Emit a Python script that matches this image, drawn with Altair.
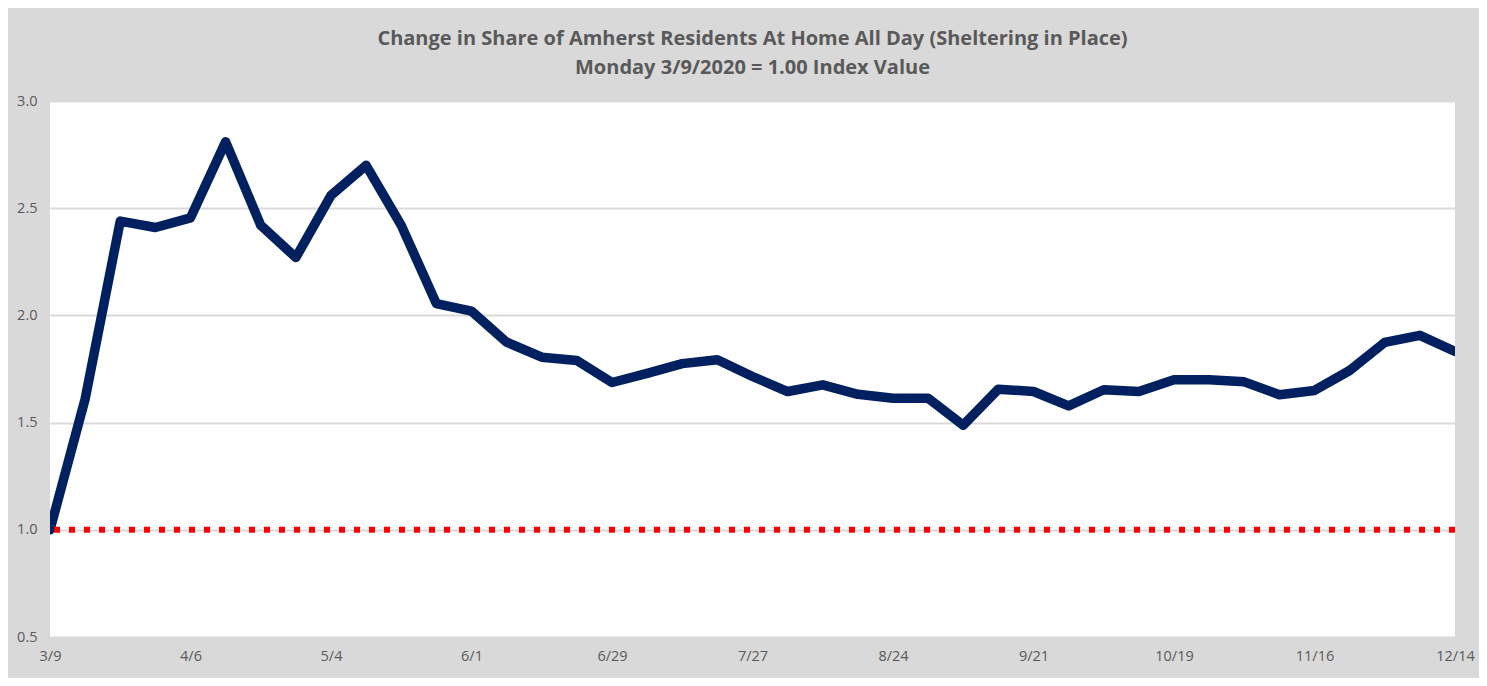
import altair as alt
import pandas as pd

weeks = ["3/9", "3/16", "3/23", "3/30", "4/6", "4/13", "4/20", "4/27", "5/4", "5/11",
         "5/18", "5/25", "6/1", "6/8", "6/15", "6/22", "6/29", "7/6", "7/13", "7/20",
         "7/27", "8/3", "8/10", "8/17", "8/24", "8/31", "9/7", "9/14", "9/21", "9/28",
         "10/5", "10/12", "10/19", "10/26", "11/2", "11/9", "11/16", "11/23", "11/30",
         "12/7", "12/14"]
index_values = [1.00, 1.61, 2.44, 2.41, 2.455, 2.81, 2.42, 2.27, 2.56, 2.70,
                2.42, 2.055, 2.02, 1.875, 1.805, 1.79, 1.687, 1.73, 1.775, 1.793,
                1.715, 1.645, 1.676, 1.632, 1.614, 1.614, 1.488, 1.656, 1.645, 1.578,
                1.653, 1.645, 1.70, 1.70, 1.69, 1.63, 1.65, 1.743, 1.874, 1.907,
                1.832]
tick_labels = ["3/9", "4/6", "5/4", "6/1", "6/29", "7/27", "8/24", "9/21", "10/19", "11/16", "12/14"]
y_ticks = [0.5, 1.0, 1.5, 2.0, 2.5, 3.0]
baseline_value = 1.0
title_lines = ["Change in Share of Amherst Residents At Home All Day (Sheltering in Place)",
               "Monday 3/9/2020 = 1.00 Index Value"]

df = pd.DataFrame({"week": weeks, "index": index_values})

FONT = "Open Sans"
GRAY = "#595959"

x_enc = alt.X("week:O", sort=weeks,
              scale=alt.Scale(type="point", padding=0),
              axis=alt.Axis(values=tick_labels, labelAngle=0, title=None, domain=False,
                            ticks=False, grid=False, labelPadding=12, labelFontSize=14.5,
                            labelColor=GRAY, labelFont=FONT))
y_scale = alt.Scale(domain=[0.5, 3.0], nice=False, zero=False)

line = alt.Chart(df).mark_line(color="#002060", strokeWidth=9.5, strokeCap="round",
                               strokeJoin="round", clip=True).encode(
    x=x_enc,
    y=alt.Y("index:Q", scale=y_scale,
            axis=alt.Axis(values=y_ticks, format=".1f", title=None, domain=False, ticks=False,
                          grid=True, gridColor="#d9d9d9", gridWidth=2, labelPadding=13,
                          labelFontSize=14.5, labelColor=GRAY, labelFont=FONT)),
)

rule = alt.Chart(pd.DataFrame({"base": [baseline_value]})).mark_rule(
    color="#ff0000", strokeWidth=6, strokeDash=[6, 9], strokeCap="butt").encode(
    y=alt.Y("base:Q", scale=y_scale)
)

chart = alt.layer(line, rule).properties(
    width=1405, height=536,
    title=alt.TitleParams(text=title_lines, anchor="middle", font=FONT, fontSize=20,
                          fontWeight="bold", color=GRAY, lineHeight=29, offset=15),
    padding={"left": 42, "top": 93, "right": 24, "bottom": 41},
    autosize=alt.AutoSizeParams(type="none"),
    background="#d9d9d9",
).configure_view(fill="white", stroke=None)

chart.save("out.html", embed_options={"renderer": "svg", "actions": False})
